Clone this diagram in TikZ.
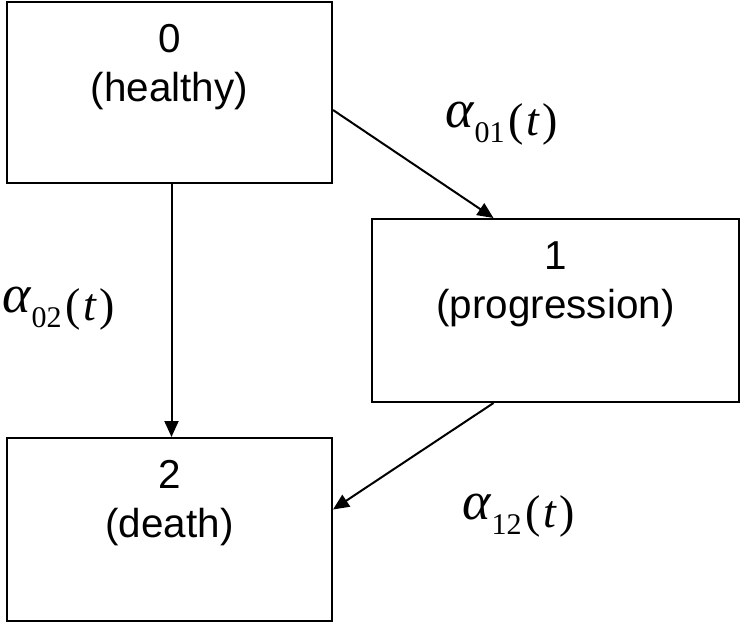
\documentclass[tikz,border=0pt]{standalone}
\usepackage{fontspec}
\setmainfont{Liberation Sans}
\newfontfamily\ratefont{Liberation Serif}
\usetikzlibrary{arrows.meta}

% transition intensity label alpha_{ij}(t)
\newcommand{\rate}[1]{{\ratefont\raisebox{4pt}{\fontsize{27}{27}\selectfont\itshape α}\kern0.5pt\raisebox{-3.5pt}{\fontsize{15}{15}\selectfont #1}\kern2pt\fontsize{23}{23}\selectfont(\kern1pt\textit{t}\kern1.5pt)}}

\begin{document}
\begin{tikzpicture}[
x=0.5pt, y=-0.5pt,
box/.style={rectangle, draw=black, line width=1pt, inner sep=0pt, align=center, font=\fontsize{20.2}{24.5}\selectfont, text height=49.5pt},
rate/.style={inner sep=0pt, anchor=base west},
line/.style={-{Triangle[length=8pt, width=7pt]}, line width=1pt}
]
\useasboundingbox (0,0) rectangle (740,622);

\node[box, minimum width=162.5pt, text depth=41pt] (healthy) at (169.5,92.5) {0\\(healthy)};
\node[box, minimum width=183.5pt, text depth=42pt] (progression) at (555.5,310.5) {1\\(progression)};
\node[box, minimum width=162.5pt, text depth=42pt] (death) at (169.5,529.5) {2\\(death)};

\node[rate] (a01) at (445,135) {\rate{01}};
\node[rate] (a02) at (2,320) {\rate{02}};
\node[rate] (a12) at (462,527) {\rate{12}};

\draw[line] ([xshift=1pt]healthy.south) -- ([xshift=1pt]death.north);
\draw[line] ([yshift=-8.75pt]healthy.east) -- ([xshift=-31pt]progression.north);
\draw[line] ([xshift=-31pt]progression.south) -- ([yshift=10pt]death.east);
\end{tikzpicture}
\end{document}
